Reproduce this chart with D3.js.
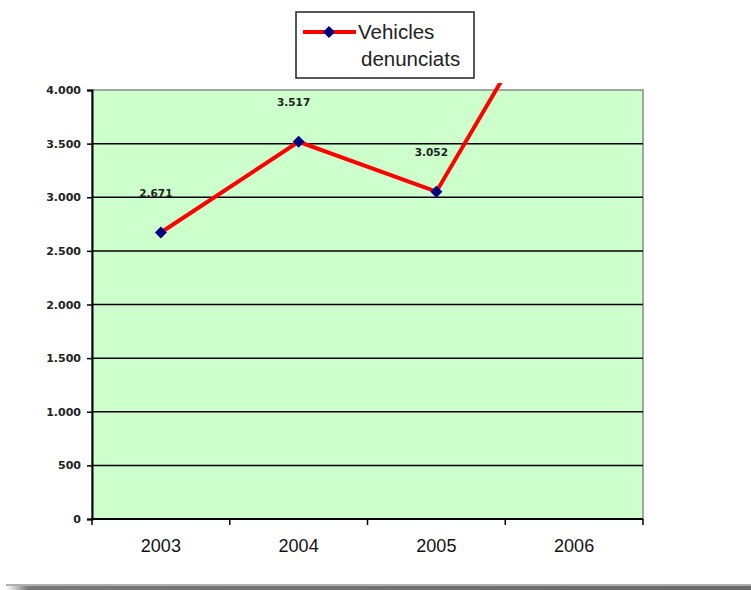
<!DOCTYPE html>
<html>
<head>
<meta charset="utf-8">
<script src="https://cdn.jsdelivr.net/npm/d3@7/dist/d3.min.js"></script>
<style>
  html, body { margin: 0; padding: 0; background: #ffffff; }
  svg { display: block; }
</style>
</head>
<body>
<svg id="chart" width="751" height="590"></svg>
<script>
const categories = ["2003", "2004", "2005", "2006"];
const values = [2671, 3517, 3052, 5240];
const valueLabels = ["2.671", "3.517", "3.052", "5.240"];
const yTicks = [0, 500, 1000, 1500, 2000, 2500, 3000, 3500, 4000];
const yTickLabels = ["0", "500", "1.000", "1.500", "2.000", "2.500", "3.000", "3.500", "4.000"];
const seriesName = ["Vehicles", "denunciats"];

const svg = d3.select("#chart");
const L = 92, R = 643, T = 90, B = 519;

const x = d3.scaleBand().domain(categories).range([L, R]).padding(0);
const y = d3.scaleLinear().domain([0, 4000]).range([B, T]);

// plot background
svg.append("rect").attr("x", L).attr("y", T).attr("width", R - L).attr("height", B - T)
  .attr("fill", "#ccffcc").attr("stroke", "#8a8a8a").attr("stroke-width", 1.5);

// gridlines
svg.append("g").selectAll("line").data(yTicks.filter(d => d > 0 && d < 4000)).join("line")
  .attr("x1", L).attr("x2", R).attr("y1", d => y(d)).attr("y2", d => y(d))
  .attr("stroke", "#000").attr("stroke-width", 1.5);

// y axis
const yAxis = d3.axisLeft(y).tickValues(yTicks).tickSize(5).tickPadding(6)
  .tickFormat((d, i) => yTickLabels[i]);
const gy = svg.append("g").attr("transform", `translate(${L},0)`).call(yAxis);
gy.select(".domain").attr("stroke", "#000").attr("stroke-width", 2);
gy.selectAll(".tick line").attr("stroke", "#000").attr("stroke-width", 1.5);
gy.selectAll(".tick text").attr("font-family", "DejaVu Sans, Verdana, sans-serif")
  .attr("font-size", "11px").attr("font-weight", "bold").attr("fill", "#222");

// x axis
const xTickPos = categories.map(c => x(c)).concat([R]);
svg.append("line").attr("x1", L).attr("x2", R).attr("y1", B).attr("y2", B)
  .attr("stroke", "#000").attr("stroke-width", 2);
svg.append("g").selectAll("line").data(xTickPos).join("line")
  .attr("x1", d => d).attr("x2", d => d).attr("y1", B).attr("y2", B + 6)
  .attr("stroke", "#000").attr("stroke-width", 1.5);
svg.append("g").selectAll("text").data(categories).join("text")
  .attr("x", d => x(d) + x.bandwidth() / 2).attr("y", 552)
  .attr("text-anchor", "middle")
  .attr("font-family", "Liberation Sans, Arial, sans-serif").attr("font-size", "18px")
  .attr("fill", "#111").text(d => d);

// line (clipped)
svg.append("clipPath").attr("id", "clip").append("rect")
  .attr("x", L).attr("y", 83).attr("width", R - L).attr("height", B - 83);
const pts = categories.map((c, i) => ({ c, v: values[i], lab: valueLabels[i] }));
const line = d3.line().x(d => x(d.c) + x.bandwidth() / 2).y(d => y(d.v));
svg.append("path").datum(pts).attr("d", line).attr("clip-path", "url(#clip)")
  .attr("fill", "none").attr("stroke", "#ff0000").attr("stroke-width", 4);

const visible = pts.filter(d => d.v <= 4000);
const sym = d3.symbol().type(d3.symbolSquare).size(72);
svg.append("g").selectAll("path").data(visible).join("path")
  .attr("d", sym)
  .attr("transform", d => `translate(${x(d.c) + x.bandwidth() / 2},${y(d.v)}) rotate(45)`)
  .attr("fill", "#000080");

svg.append("g").selectAll("text").data(visible).join("text")
  .attr("x", d => x(d.c) + x.bandwidth() / 2 - 5).attr("y", d => y(d.v) - 36)
  .attr("text-anchor", "middle")
  .attr("font-family", "DejaVu Sans, Verdana, sans-serif").attr("font-size", "10.5px")
  .attr("font-weight", "bold").attr("fill", "#222").text(d => d.lab);

// legend
const lg = svg.append("g");
lg.append("rect").attr("x", 296).attr("y", 12).attr("width", 178).attr("height", 66)
  .attr("fill", "#fff").attr("stroke", "#222").attr("stroke-width", 1.5);
lg.append("line").attr("x1", 303).attr("x2", 356).attr("y1", 32).attr("y2", 32)
  .attr("stroke", "#ff0000").attr("stroke-width", 4);
lg.append("path").attr("d", sym).attr("transform", "translate(329,32) rotate(45)").attr("fill", "#000080");
lg.append("text").attr("x", 358).attr("y", 39)
  .attr("font-family", "Liberation Sans, Arial, sans-serif").attr("font-size", "20.5px")
  .attr("fill", "#222").text(seriesName[0]);
lg.append("text").attr("x", 361).attr("y", 66)
  .attr("font-family", "Liberation Sans, Arial, sans-serif").attr("font-size", "20.5px")
  .attr("fill", "#222").text(seriesName[1]);

// bottom bar
const grad = svg.append("defs").append("linearGradient").attr("id", "bar").attr("x1", 0).attr("x2", 1);
grad.append("stop").attr("offset", "0").attr("stop-color", "#ffffff");
grad.append("stop").attr("offset", "0.03").attr("stop-color", "#777");
grad.append("stop").attr("offset", "1").attr("stop-color", "#6a6a6a");
svg.append("rect").attr("x", 6).attr("y", 584).attr("width", 745).attr("height", 2).attr("fill", "#b0b0b0");
svg.append("rect").attr("x", 6).attr("y", 586).attr("width", 745).attr("height", 4).attr("fill", "url(#bar)");
</script>
</body>
</html>
